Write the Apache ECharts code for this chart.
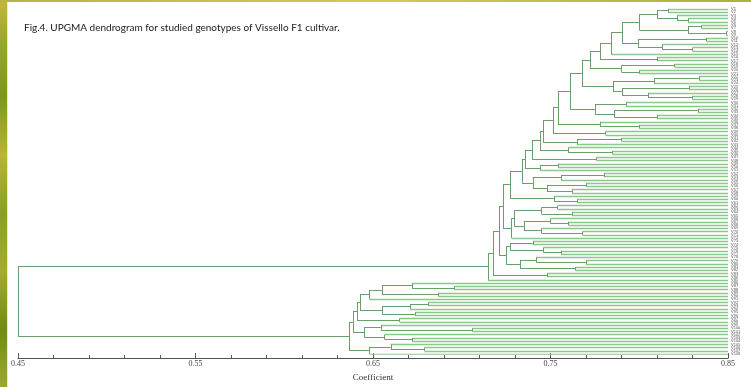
<!DOCTYPE html>
<html><head><meta charset="utf-8">
<script src="https://cdn.jsdelivr.net/npm/echarts@6/dist/echarts.min.js"></script>
<style>html,body{margin:0;padding:0;background:#fff}#c{width:751px;height:387px}</style>
</head><body><div id="c"></div>
<script>
const L = null; // a leaf
const titleText = 'Fig.4. UPGMA dendrogram for studied genotypes of Vissello F1 cultivar.';
const axisName = 'Coefficient';
const tickLabels = ['0.45', '0.55', '0.65', '0.75', '0.85'];
const leafLevel = 0.85;
const rootHeight = 0.45;

// uppermost group of the large cluster: [height, child, child]
const topGroup = [0.7903,
  [0.8000,
    [0.8100, [0.8162, L, L], [0.8213, L, [0.8275, L, L]]],
    [0.8275, [0.8350, L, L], [0.8490, L, L]]],
  [0.7993, [0.8380, L, L], [0.8130, L, [0.8300, L, L]]]];

// heights of the successive joins down the staircase of the large cluster
const spineHeights = [0.7841, 0.7779, 0.7723, 0.7677, 0.7610, 0.7542, 0.7514, 0.7458,
  0.7441, 0.7396, 0.7356, 0.7339, 0.7272, 0.7232, 0.7210, 0.7176, 0.7148];

// the group joined at each step of the staircase
const sideClusters = [
  L,
  [0.8100, L, L],
  [0.7900, [0.8200, L, L], [0.8000, L, L]],
  [0.7852, [0.8083, [0.8336, L, L], L], [0.7903, [0.8280, L, L], [0.8050, L, [0.8300, L, L]]]],
  [0.7750, [0.7925, L, L], [0.7860, [0.8330, L, L], [0.8100, L, L]]],
  [0.7780, L, [0.8000, L, L]],
  [0.7810, L, L],
  [0.7650, [0.7900, L, L], L],
  [0.7600, L, [0.7850, L, L]],
  [0.7760, L, L],
  [0.7441, [0.7542, L, L], L],
  [0.7400, [0.7560, [0.7800, L, L], L], [0.7480, [0.7700, L, L], [0.7620, L, L]]],
  [0.7520, L, [0.7650, L, L]],
  [0.7280, [0.7295, [0.7450, [0.7540, L, L], [0.7620, L, L]], [0.7350, [0.7500, L, [0.7600, L, L]], [0.7450, L, [0.7680, L, L]]]], L],
  [0.7250, [0.7272, [0.7400, L, L], [0.7460, L, [0.7560, L, L]]], [0.7330, [0.7420, L, [0.7700, L, L]], [0.7640, L, L]]],
  [0.7480, L, L],
  L
];

// the small lower cluster
const bottomUpper = [0.6410,
  [0.6427,
    [0.6480, [0.6550, [0.6720, L, [0.6960, L, L]], [0.6866, L, L]], L],
    [0.6550, [0.6710, [0.6810, L, L], L], [0.6737, L, L]]],
  [0.6650, L, L]];
const bottomMiddle = [0.6450,
  [0.6544, L, [0.7060, L, L]],
  [0.6566, L, [0.6720, L, L]]];
const bottomLower = [0.6480, [0.6600, L, [0.6790, L, L]], L];
const bottomHeights = [0.6365, 0.6387];

const leafCount = 108;
const leafLabels = [];
for (let i = 1; i <= leafCount; i++) leafLabels.push('V' + i);

// ---- assemble tree ----
let big = topGroup;
spineHeights.forEach((h, i) => { big = [h, big, sideClusters[i]]; });
const bottomCluster = [bottomHeights[0], [bottomHeights[1], bottomUpper, bottomMiddle], bottomLower];
const tree = [rootHeight, big, bottomCluster];

const leafSegs = [], nodeSegs = [];
let counter = 0;
function layout(node) {
  if (node === null) { return { x: leafLevel, y: counter++, leaf: true }; }
  const h = node[0];
  const kids = node.slice(1).map(layout);
  const y0 = kids[0].y, y1 = kids[kids.length - 1].y;
  nodeSegs.push([[h, y0], [h, y1]]);
  kids.forEach(k => {
    (k.leaf ? leafSegs : nodeSegs).push([[h, k.y], [k.x, k.y]]);
  });
  return { x: h, y: (y0 + y1) / 2, leaf: false };
}
layout(tree);

const chart = echarts.init(document.getElementById('c'), null, { renderer: 'canvas' });
const serif = 'Liberation Serif';
chart.setOption({
  animation: false,
  backgroundColor: '#ffffff',
  grid: { left: 18, right: 23, top: 9, bottom: 20 },
  xAxis: {
    type: 'value', position: 'bottom', min: 0.45, max: 0.85, interval: 0.1, offset: 4,
    axisLine: { show: true, onZero: false, lineStyle: { color: '#555', width: 1 } },
    axisTick: { show: true, inside: true, length: 5, lineStyle: { color: '#555' } },
    minorTick: { show: true, splitNumber: 5, length: 3, lineStyle: { color: '#555' } },
    splitLine: { show: false }, minorSplitLine: { show: false },
    axisLabel: {
      margin: 2, fontFamily: serif, fontSize: 8, color: '#444',
      formatter: v => tickLabels[Math.round((v - 0.45) / 0.1)]
    },
    name: axisName, nameLocation: 'middle', nameGap: 9,
    nameTextStyle: { fontFamily: serif, fontSize: 9, color: '#333' }
  },
  yAxis: [
    { type: 'value', min: 0, max: leafCount - 1, inverse: true, show: false },
    {
      type: 'category', data: leafLabels, inverse: true, boundaryGap: false, position: 'right',
      axisLine: { show: false }, axisTick: { show: false }, splitLine: { show: false },
      axisLabel: { interval: 0, fontSize: 4, margin: 3, color: '#555', fontFamily: 'Liberation Sans' }
    }
  ],
  series: [
    {
      type: 'lines', coordinateSystem: 'cartesian2d', xAxisIndex: 0, yAxisIndex: 0, silent: true,
      data: leafSegs.map(c => ({ coords: c })),
      lineStyle: { color: '#8cc88c', width: 1.4, opacity: 1 }
    },
    {
      type: 'lines', coordinateSystem: 'cartesian2d', xAxisIndex: 0, yAxisIndex: 0, silent: true,
      data: nodeSegs.map(c => ({ coords: c })),
      lineStyle: { color: '#6a9f6a', width: 1, opacity: 1 }
    }
  ],
  graphic: [
    {
      type: 'rect', left: 0, top: 0, shape: { width: 7, height: 387 }, silent: true,
      style: {
        fill: new echarts.graphic.LinearGradient(0, 0, 0, 1, [
          { offset: 0, color: '#c2b83a' }, { offset: 0.12, color: '#96a628' },
          { offset: 0.25, color: '#7c9818' }, { offset: 0.4, color: '#b9b632' },
          { offset: 0.55, color: '#88a020' }, { offset: 0.7, color: '#a6ac2a' },
          { offset: 0.85, color: '#6e8c14' }, { offset: 1, color: '#9ea830' }])
      }
    },
    { type: 'rect', left: 7, top: 0, shape: { width: 1, height: 387 }, silent: true, style: { fill: '#e6ead0' } },
    {
      type: 'rect', left: 0, top: 0, shape: { width: 751, height: 2 }, silent: true,
      style: {
        fill: new echarts.graphic.LinearGradient(0, 0, 1, 0, [
          { offset: 0, color: '#b8b440' }, { offset: 0.5, color: '#d4ca52' }, { offset: 1, color: '#a8b436' }])
      }
    },
    {
      type: 'text', left: 24, top: 23, silent: true,
      style: { text: titleText, fontFamily: 'Lato', fontSize: 10, fill: '#1a1a1a' }
    }
  ]
});
</script></body></html>
